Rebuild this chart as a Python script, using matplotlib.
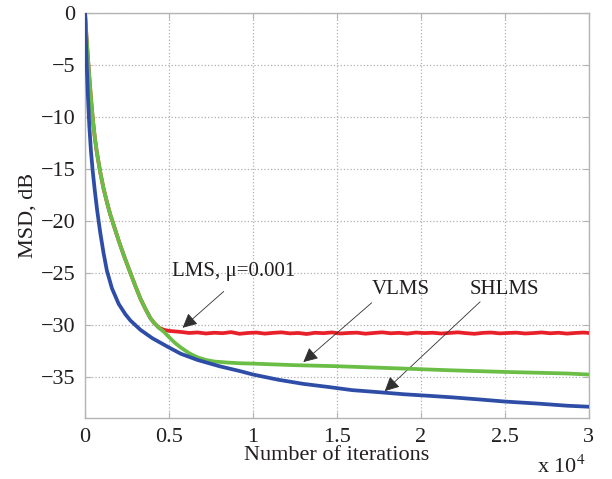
import matplotlib
matplotlib.use("Agg")
import matplotlib.pyplot as plt

plt.rcParams['font.family'] = ['Liberation Serif', 'DejaVu Serif']
plt.rcParams['mathtext.fontset'] = 'stix'

# ---- data (iterations, MSD in dB) ----
shlms_x = [0, 50, 100, 170, 250, 350, 460, 580, 720, 900, 1100, 1300, 1600, 2000, 2400,
           2700, 3300, 4000, 5000, 5700, 6700, 8000, 9300, 10000, 11500, 13000, 14500,
           15900, 17500, 19000, 20500, 21900, 23500, 25000, 27000, 28700, 30000]
shlms_y = [0, -2.6, -5, -8, -10.8, -13.3, -15.3, -17.1, -19, -21.1, -23.1, -24.8, -26.5,
           -28, -29, -29.6, -30.5, -31.3, -32.2, -32.8, -33.4, -34.0, -34.5, -34.8,
           -35.3, -35.7, -36.0, -36.3, -36.5, -36.7, -36.85, -37.0, -37.2, -37.4, -37.6,
           -37.8, -37.9]

vlms_x = [0, 80, 160, 240, 350, 460, 580, 700, 900, 1100, 1300, 1500, 1700, 2000, 2300,
          2600, 3000, 3300, 3600, 3900, 4150, 4400, 4700, 5000, 5350, 5700, 6200, 6700,
          7200, 7700, 8500, 9300, 10000, 12500, 15000, 18500, 21900, 25000, 28700, 30000]
vlms_y = [0, -2.2, -4.1, -5.9, -8.2, -10.2, -12, -13.4, -15.3, -16.9, -18.2, -19.4, -20.4,
          -21.9, -23.3, -24.6, -26.3, -27.5, -28.5, -29.4, -29.9, -30.3, -30.7, -31.2,
          -31.75, -32.2, -32.75, -33.15, -33.4, -33.55, -33.65, -33.72, -33.75, -33.9,
          -34.0, -34.2, -34.4, -34.55, -34.7, -34.8]

lms_x = [0, 80, 160, 240, 350, 460, 580, 700, 900, 1100, 1300, 1500, 1700, 2000, 2300,
         2600, 3000, 3300, 3600, 3900, 4150, 4400, 4700, 5000, 5700, 6200, 6700, 7200,
         7700, 8200, 8700, 9200, 9700, 10200, 10700, 11200, 11700, 12200, 12700, 13200,
         13700, 14200, 14700, 15200, 15700, 16200, 16700, 17200, 17700, 18200, 18700,
         19200, 19700, 20200, 20700, 21200, 21700, 22200, 22700, 23200, 23700, 24200,
         24700, 25200, 25700, 26200, 26700, 27200, 27700, 28200, 28700, 29200, 29700, 30000]
lms_y = [0, -2.2, -4.1, -5.9, -8.2, -10.2, -12, -13.4, -15.3, -16.9, -18.2, -19.4, -20.4,
         -21.9, -23.3, -24.6, -26.3, -27.5, -28.5, -29.4, -29.9, -30.3, -30.5, -30.6,
         -30.7, -30.8, -30.75, -30.85, -30.78, -30.82, -30.72, -30.88, -30.8, -30.76,
         -30.86, -30.79, -30.74, -30.84, -30.8, -30.9, -30.78, -30.82, -30.75, -30.85,
         -30.8, -30.77, -30.87, -30.8, -30.74, -30.83, -30.79, -30.86, -30.76, -30.81,
         -30.78, -30.85, -30.8, -30.74, -30.82, -30.88, -30.79, -30.76, -30.84, -30.8,
         -30.77, -30.85, -30.81, -30.75, -30.83, -30.78, -30.86, -30.8, -30.76, -30.8]

xticks = [0, 5000, 10000, 15000, 20000, 25000, 30000]
xtick_labels = ['0', '0.5', '1', '1.5', '2', '2.5', '3']
yticks = [0, -5, -10, -15, -20, -25, -30, -35]

fig = plt.figure(figsize=(6.12, 4.79), dpi=100)
ax = fig.add_axes([0.139, 0.127, 0.823, 0.846])

ax.plot(lms_x, lms_y, color='#e8202a', lw=2.7, zorder=3, solid_joinstyle='round')
ax.plot(vlms_x, vlms_y, color='#6abd45', lw=2.7, zorder=4, solid_joinstyle='round')
ax.plot(shlms_x, shlms_y, color='#2e4da6', lw=2.7, zorder=5, solid_joinstyle='round')

ax.set_xlim(0, 30000)
ax.set_ylim(-39, 0)
ax.set_xticks(xticks)
ax.set_xticklabels(xtick_labels)
ax.set_yticks(yticks)
ax.set_yticklabels([('\u2212%d' % -v) if v < 0 else '0' for v in yticks])

ax.grid(True, linestyle=':', color='#b0b0b0', lw=0.9)
ax.set_axisbelow(True)
for s in ax.spines.values():
    s.set_color('#b4b4b4')
    s.set_linewidth(1.0)
ax.tick_params(direction='in', length=4, color='#b4b4b4', labelsize=16,
               labelcolor='#231f20', top=True, right=True, pad=7)

ax.set_xlabel('Number of iterations', fontsize=16, color='#231f20', labelpad=-1)
ax.set_ylabel('MSD, dB', fontsize=16, color='#231f20', labelpad=2)

fig.text(537 / 612, 1 - 473 / 479, 'x 10$^4$', fontsize=16, color='#231f20',
         ha='left', va='baseline')

arrow = dict(arrowstyle='-|>', color='#303030', lw=0.6, mutation_scale=22,
             shrinkA=0, shrinkB=0)
ax.annotate('', xy=(5810, -30.3), xytext=(8260, -26.8), arrowprops=arrow)
ax.text(5200, -24.9, 'LMS, \u03bc=0.001', fontsize=15, ha='left', va='center', color='#231f20')

ax.annotate('', xy=(13000, -33.6), xytext=(17070, -27.9), arrowprops=arrow)
ax.text(18800, -26.6, 'VLMS', fontsize=15, ha='center', va='center', color='#231f20')

ax.annotate('', xy=(17850, -36.4), xytext=(23530, -27.8), arrowprops=arrow)
ax.text(24970, -26.6, 'SHLMS', fontsize=15, ha='center', va='center', color='#231f20')

fig.savefig('out.png', dpi=100)
